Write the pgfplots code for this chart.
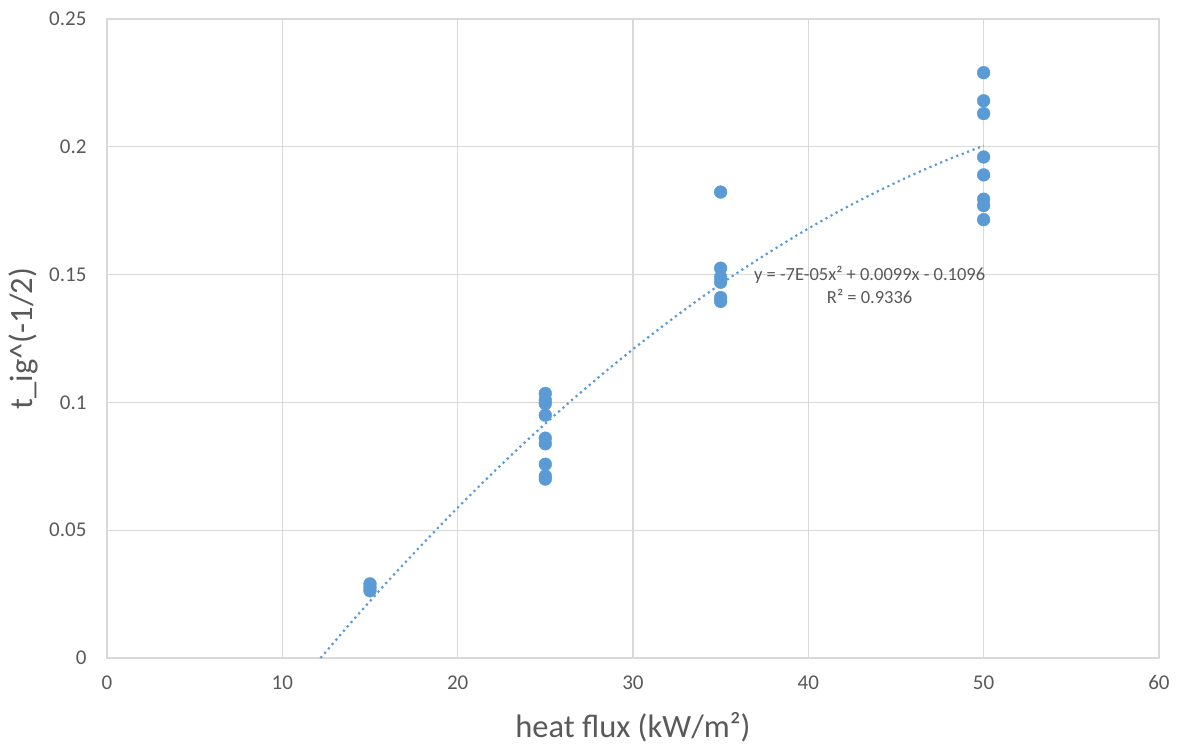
\documentclass[border=0pt]{standalone}
\usepackage{fontspec}
\setmainfont{Carlito}
\usepackage{pgfplots}
\pgfplotsset{compat=1.18}
\definecolor{pt}{HTML}{5B9BD5}
\definecolor{txt}{HTML}{595959}
\definecolor{grd}{HTML}{D9D9D9}
\definecolor{axl}{HTML}{BFBFBF}
\begin{document}
\begin{tikzpicture}[x=1pt,y=1pt]
\useasboundingbox (0,0) rectangle (1181,751);
\begin{axis}[
  at={(107pt,93pt)}, anchor=south west,
  scale only axis, width=1052pt, height=639pt,
  xmin=0, xmax=60, ymin=0, ymax=0.25,
  xtick={0,10,...,60},
  ytick={0,0.05,0.1,0.15,0.2,0.25},
  yticklabels={0,0.05,0.1,0.15,0.2,0.25},
  xticklabels={0,10,20,30,40,50,60},
  grid=major,
  major grid style={grd, line width=1.3pt},
  axis line style={grd, line width=1.3pt},
  tick style={draw=none},
  ticklabel style={font=\fontsize{21}{24}\selectfont, text=txt},
  yticklabel style={xshift=-17pt},
  xticklabel style={yshift=-14pt},
  xlabel={heat flux (kW/m²)},
  ylabel={t\_ig\textasciicircum(-1/2)},
  label style={font=\fontsize{32.5}{36}\selectfont, text=txt},
  xlabel style={yshift=-16pt},
  ylabel style={yshift=4pt},
  clip=false,
]
\addplot[only marks, mark=*, mark size=6.4pt, mark options={fill=pt, draw=pt}] coordinates {
(15,0.0290) (15,0.0276) (15,0.0263)
(25,0.1035) (25,0.1010) (25,0.0995) (25,0.0950) (25,0.0860) (25,0.0838) (25,0.0758) (25,0.0712) (25,0.0700)
(35,0.1823) (35,0.1525) (35,0.1490) (35,0.1470) (35,0.1410) (35,0.1395)
(50,0.2290) (50,0.2180) (50,0.2130) (50,0.1960) (50,0.1890) (50,0.1795) (50,0.1770) (50,0.1715)
};
\addplot[pt, line width=2.2pt, dash pattern=on 2.2pt off 3.6pt, smooth] coordinates {
(12.18,0) (14,0.0145) (16,0.0299) (18,0.0446) (20,0.0588) (22,0.0724) (24,0.0854) (26,0.0978)
(28,0.1096) (30,0.1208) (32,0.1314) (34,0.1415) (36,0.1509) (38,0.1597) (40,0.1680)
(42,0.1757) (44,0.1827) (46,0.1892) (48,0.1951) (50,0.2004)
};
\node[font=\fontsize{18.5}{22}\selectfont, text=txt, align=center, inner sep=0pt] at (axis cs:43.5,0.1461)
  {y = -7E-05x² + 0.0099x - 0.1096\\[1pt] R² = 0.9336};
\end{axis}
\end{tikzpicture}
\end{document}
